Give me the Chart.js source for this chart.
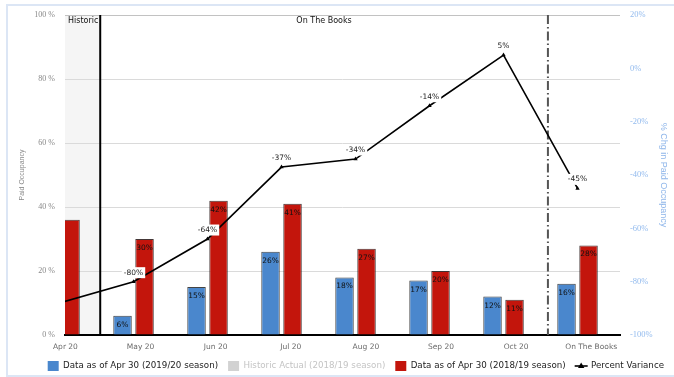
<!DOCTYPE html>
<html>
<head>
<meta charset="utf-8">
<title>Paid Occupancy</title>
<script src="https://cdn.jsdelivr.net/npm/chart.js@4.4.1/dist/chart.umd.min.js"></script>
<style>
  html, body { margin: 0; padding: 0; background: #fff; overflow: hidden; width: 674px; height: 377px; }
  #frame { position: absolute; left: 6px; top: 4px; width: 720px; height: 373px; border: 2px solid #dce6f5; box-sizing: border-box; }
  #chart { position: absolute; left: 0; top: 0; }
</style>
</head>
<body>
<div id="frame"></div>
<canvas id="chart" width="674" height="381"></canvas>
<script>
// Monthly paid occupancy: this season vs. the same date last season
const categories = ['Apr 20', 'May 20', 'Jun 20', 'Jul 20', 'Aug 20', 'Sep 20', 'Oct 20', 'On The Books'];
const occupancy2019_20 = [null, 6, 15, 26, 18, 17, 12, 16];
const occupancy2018_19 = [36, 30, 42, 41, 27, 20, 11, 28];
const percentVariance = [-88, -80, -64, -37, -34, -14, 5, -45];
const occupancyTicks = [0, 20, 40, 60, 80, 100];
const varianceTicks = [-100, -80, -60, -40, -20, 0, 20];
const seriesNames = [
  'Data as of Apr 30 (2019/20 season)',
  'Historic Actual (2018/19 season)',
  'Data as of Apr 30 (2018/19 season)',
  'Percent Variance'
];

// Period boundaries on the category index axis
const HISTORIC_END = 0.55;
const BOOKS_START = 6.6;
const X_MIN = 0.074, X_MAX = 7.574;
const LABEL_STEP = 1.015, LABEL_SHIFT = 0.08;
const firstLabelled = 1;

const BLUE = '#4a87cd';
const RED = '#c3150c';

Chart.defaults.font.family = '"DejaVu Sans", sans-serif';

const toPoints = arr => arr.map((v, i) => ({ x: i, y: v }));

const annotations = {
  id: 'annotations',
  beforeDraw(chart) {
    const { ctx, chartArea: a, scales: { x } } = chart;
    const split = x.getPixelForValue(HISTORIC_END);
    ctx.save();
    ctx.fillStyle = '#f5f5f5';
    ctx.fillRect(a.left, a.top, split - a.left, a.bottom - a.top);
    ctx.restore();
  },
  beforeDatasetsDraw(chart) {
    const { ctx, chartArea: a, scales: { x } } = chart;
    const split = x.getPixelForValue(HISTORIC_END);
    const books = x.getPixelForValue(BOOKS_START);
    ctx.save();
    ctx.strokeStyle = '#000';
    ctx.lineWidth = 2;
    ctx.beginPath();
    ctx.moveTo(split, a.top);
    ctx.lineTo(split, a.bottom);
    ctx.stroke();
    ctx.strokeStyle = '#555';
    ctx.setLineDash([9, 3, 1.5, 3]);
    ctx.beginPath();
    ctx.moveTo(books, a.top);
    ctx.lineTo(books, a.bottom);
    ctx.stroke();
    ctx.restore();
  },
  afterDatasetsDraw(chart) {
    const { ctx } = chart;
    ctx.save();
    ctx.font = '7.5px "DejaVu Sans"';
    ctx.textAlign = 'center';
    ctx.textBaseline = 'middle';
    // values inside the top of each bar
    [0, 1].forEach(di => {
      const meta = chart.getDatasetMeta(di);
      const vals = chart.data.datasets[di].data;
      meta.data.forEach((bar, i) => {
        const v = vals[i].y;
        if (v == null || i < firstLabelled) return;
        ctx.fillStyle = '#111';
        ctx.fillText(v + '%', bar.x, bar.y + 9);
      });
    });
    // variance labels on white boxes above the points
    const lineMeta = chart.getDatasetMeta(2);
    const lineVals = chart.data.datasets[2].data;
    lineMeta.data.forEach((pt, i) => {
      if (i < firstLabelled) return;
      const txt = lineVals[i].y + '%';
      const w = ctx.measureText(txt).width + 4;
      const cy = pt.y - 9;
      ctx.fillStyle = '#fff';
      ctx.fillRect(pt.x - w / 2, cy - 5.5, w, 11);
      ctx.fillStyle = '#222';
      ctx.fillText(txt, pt.x, cy);
    });
    ctx.restore();
  },
  afterDraw(chart) {
    const { ctx, chartArea: a, scales: { x } } = chart;
    const split = x.getPixelForValue(HISTORIC_END);
    const books = x.getPixelForValue(BOOKS_START);
    ctx.save();
    ctx.font = '8px "DejaVu Sans"';
    ctx.fillStyle = '#111';
    ctx.textBaseline = 'middle';
    ctx.textAlign = 'left';
    ctx.fillText('Historic', a.left + 3, a.top + 6);
    ctx.textAlign = 'center';
    ctx.fillText('On The Books', (split + books) / 2, a.top + 6);
    // legend symbol for the variance line
    const hb = chart.legend.legendHitBoxes[3];
    if (hb) {
      const cy = hb.top + hb.height / 2;
      const cx = hb.left + 5.5;
      ctx.strokeStyle = '#000';
      ctx.lineWidth = 1.6;
      ctx.beginPath();
      ctx.moveTo(hb.left - 1, cy);
      ctx.lineTo(hb.left + 12, cy);
      ctx.stroke();
      ctx.fillStyle = '#000';
      ctx.beginPath();
      ctx.moveTo(cx, cy - 3.5);
      ctx.lineTo(cx + 3.2, cy + 2);
      ctx.lineTo(cx - 3.2, cy + 2);
      ctx.closePath();
      ctx.fill();
    }
    ctx.restore();
  }
};

const legendStyle = [
  { fill: BLUE, font: '#222' },
  { fill: '#d2d2d2', font: '#c4c4c4' },
  { fill: RED, font: '#222' },
  { fill: 'rgba(0,0,0,0)', font: '#222' }
];

new Chart(document.getElementById('chart'), {
  data: {
    datasets: [
      {
        type: 'bar',
        label: seriesNames[0],
        data: toPoints(occupancy2019_20),
        backgroundColor: BLUE,
        borderColor: 'rgba(35,35,35,0.85)',
        borderWidth: 1,
        categoryPercentage: 0.595,
        barPercentage: 0.84,
        yAxisID: 'y',
        clip: 0,
        order: 2
      },
      {
        type: 'bar',
        label: seriesNames[2],
        data: toPoints(occupancy2018_19),
        backgroundColor: RED,
        borderColor: 'rgba(35,20,20,0.85)',
        borderWidth: 1,
        categoryPercentage: 0.595,
        barPercentage: 0.84,
        yAxisID: 'y',
        clip: 0,
        order: 2
      },
      {
        type: 'line',
        label: seriesNames[3],
        data: toPoints(percentVariance),
        borderColor: '#000',
        borderWidth: 1.6,
        pointStyle: 'triangle',
        pointRadius: 2.5,
        pointBackgroundColor: '#000',
        pointBorderColor: '#000',
        pointBorderWidth: 0,
        tension: 0,
        yAxisID: 'y1',
        clip: 0,
        order: 1
      }
    ]
  },
  options: {
    responsive: false,
    animation: false,
    devicePixelRatio: 1,
    layout: { padding: { top: 14, left: 0, right: 0, bottom: 0 } },
    plugins: {
      tooltip: { enabled: false },
      legend: {
        position: 'bottom',
        align: 'end',
        onClick: null,
        labels: {
          font: { size: 8.7 },
          color: '#222',
          boxWidth: 11,
          boxHeight: 10,
          padding: 10,
          generateLabels: () => seriesNames.map((name, i) => ({
            text: name,
            fillStyle: legendStyle[i].fill,
            strokeStyle: 'rgba(0,0,0,0)',
            lineWidth: 0,
            fontColor: legendStyle[i].font,
            hidden: false,
            index: i
          }))
        }
      }
    },
    scales: {
      x: {
        type: 'linear',
        position: 'bottom',
        offset: false,
        bounds: 'data',
        min: X_MIN,
        max: X_MAX,
        grid: { display: false, drawTicks: false, offset: false },
        border: { display: true, color: '#000', width: 2 },
        afterBuildTicks: s => { s.ticks = categories.map((_, i) => ({ value: i * LABEL_STEP + LABEL_SHIFT })); },
        afterFit: s => { s.height = 16; },
        ticks: {
          autoSkip: false,
          maxRotation: 0,
          padding: 8,
          color: '#6a6a6a',
          font: { size: 7.5 },
          callback: (v, i) => categories[i]
        }
      },
      y: {
        position: 'left',
        min: 0,
        max: 100,
        afterBuildTicks: s => { s.ticks = occupancyTicks.map(v => ({ value: v })); },
        afterFit: s => { s.width = 65; },
        grid: {
          drawTicks: false,
          color: ctx => (ctx.tick && ctx.tick.value === 100 ? '#c2c2c2' : '#dadada'),
          lineWidth: 1
        },
        border: { display: false },
        ticks: {
          padding: 10,
          color: '#888',
          font: { family: '"Liberation Serif", serif', size: 8 },
          callback: v => v + ' %'
        },
        title: {
          display: true,
          text: 'Paid Occupancy',
          color: '#8a8a8a',
          font: { family: '"Liberation Sans", sans-serif', size: 7 },
          padding: { top: 18, bottom: 0 }
        }
      },
      y1: {
        position: 'right',
        min: -100,
        max: 20,
        afterBuildTicks: s => { s.ticks = varianceTicks.map(v => ({ value: v })); },
        afterFit: s => { s.width = 54; },
        grid: { display: false, drawTicks: false },
        border: { display: false },
        ticks: {
          padding: 10,
          color: '#93bbee',
          font: { family: '"Liberation Serif", serif', size: 8.5 },
          callback: v => v + '%'
        },
        title: {
          display: true,
          text: '% Chg in Paid Occupancy',
          color: '#8fb6ea',
          font: { family: '"Liberation Sans", sans-serif', size: 9 },
          padding: { top: 5.6, bottom: 0 }
        }
      }
    }
  },
  plugins: [annotations]
});
</script>
</body>
</html>
